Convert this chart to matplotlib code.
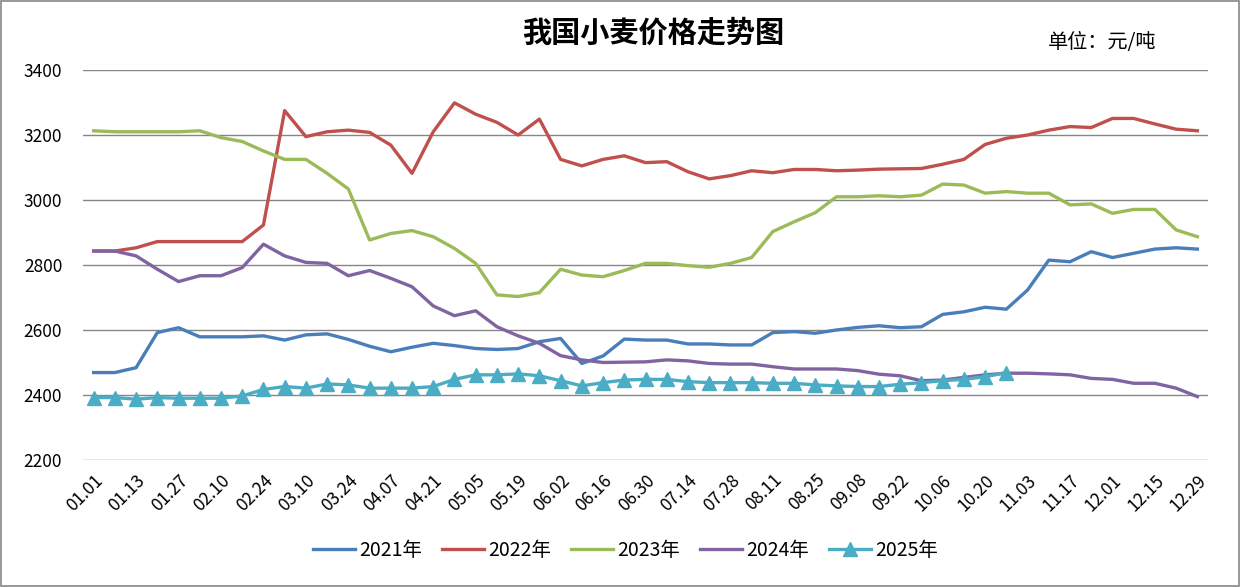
import matplotlib
matplotlib.use("Agg")
import matplotlib.pyplot as plt
from matplotlib.patches import Rectangle

plt.rcParams["font.family"] = ["Noto Sans CJK SC", "DejaVu Sans"]

# weekly sample dates; only every 2nd label is shown on the axis
tick_labels = [
    "01.01", "01.13", "01.27", "02.10", "02.24", "03.10", "03.24", "04.07", "04.21",
    "05.05", "05.19", "06.02", "06.16", "06.30", "07.14", "07.28", "08.11", "08.25",
    "09.08", "09.22", "10.06", "10.20", "11.03", "11.17", "12.01", "12.15", "12.29",
]

y2021 = [
    2469, 2469, 2484, 2592, 2607, 2579, 2579, 2579, 2582, 2569, 2585, 2588, 2571, 2550,
    2533, 2547, 2559, 2552, 2543, 2540, 2543, 2564, 2574, 2497, 2520, 2572, 2569, 2569,
    2557, 2557, 2554, 2554, 2592, 2595, 2590, 2600, 2608, 2613, 2607, 2610, 2648, 2656,
    2670, 2664, 2723, 2815, 2810, 2841, 2823, 2836, 2849, 2853, 2849,
]
y2022 = [
    2843, 2843, 2853, 2872, 2872, 2872, 2872, 2872, 2923, 3275, 3195, 3210, 3215, 3208,
    3169, 3082, 3210, 3299, 3264, 3239, 3200, 3249, 3125, 3105, 3125, 3136, 3115, 3118,
    3087, 3065, 3075, 3090, 3084, 3094, 3094, 3090, 3092, 3095, 3096, 3097, 3110, 3125,
    3171, 3190, 3200, 3215, 3226, 3223, 3251, 3251, 3234, 3218, 3213,
]
y2023 = [
    3213, 3210, 3210, 3210, 3210, 3213, 3192, 3180, 3151, 3125, 3125, 3082, 3034, 2877,
    2897, 2906, 2887, 2851, 2805, 2708, 2703, 2715, 2787, 2769, 2764, 2783, 2805, 2805,
    2798, 2793, 2805, 2823, 2903, 2933, 2961, 3010, 3010, 3013, 3010, 3015, 3049, 3046,
    3021, 3026, 3021, 3021, 2985, 2988, 2959, 2971, 2971, 2908, 2887,
]
y2024 = [
    2843, 2843, 2828, 2787, 2749, 2767, 2767, 2792, 2864, 2828, 2808, 2805, 2767, 2783,
    2759, 2733, 2674, 2644, 2659, 2610, 2582, 2559, 2521, 2508, 2500, 2501, 2502, 2508,
    2505, 2497, 2495, 2495, 2487, 2480, 2480, 2480, 2475, 2464, 2459, 2444, 2446, 2454,
    2462, 2467, 2467, 2465, 2462, 2451, 2448, 2436, 2436, 2421, 2395,
]
y2025 = [
    2392, 2392, 2387, 2392, 2390, 2390, 2390, 2397, 2417, 2426, 2421, 2434, 2431, 2421,
    2421, 2421, 2426, 2448, 2462, 2462, 2465, 2459, 2444, 2428, 2438, 2446, 2448, 2448,
    2441, 2438, 2438, 2438, 2436, 2436, 2431, 2428, 2426, 2426, 2433, 2438, 2444, 2448,
    2456, 2469,
]

series = [
    ("2021年", y2021, "#4a7ebb", None),
    ("2022年", y2022, "#c0504d", None),
    ("2023年", y2023, "#9bbb59", None),
    ("2024年", y2024, "#8064a2", None),
    ("2025年", y2025, "#4bacc6", "^"),
]

fig = plt.figure(figsize=(12.41, 5.87), dpi=100)
ax = fig.add_axes([0.0669, 0.2164, 0.9065, 0.6643])

for name, vals, color, marker in series:
    ax.plot(range(len(vals)), vals, color=color, linewidth=2.4, label=name,
            marker=marker, markersize=10.5, solid_joinstyle="round")

ax.set_xlim(-0.5, len(y2021) - 0.5)
ax.set_ylim(2200, 3400)
ax.set_yticks(range(2200, 3401, 200))
ax.set_xticks(range(0, len(y2021), 2))
ax.set_xticklabels(tick_labels, rotation=45, ha="right", rotation_mode="anchor")
ax.tick_params(axis="both", length=0, labelsize=12.5)
ax.tick_params(axis="x", pad=8)
ax.tick_params(axis="y", pad=15)
ax.grid(axis="y", color="#868686", linewidth=1)
ax.set_axisbelow(True)
for side in ["top", "right", "left", "bottom"]:
    ax.spines[side].set_visible(False)

fig.text(0.526, 0.945, "我国小麦价格走势图", ha="center", va="center",
         fontsize=21, fontweight="bold")
fig.text(0.888, 0.927, "单位：元/吨", ha="center", va="center", fontsize=14.5)

fig.legend(loc="center", bbox_to_anchor=(0.504, 0.063), ncol=5, frameon=False,
           fontsize=14, handlelength=2.15, handletextpad=0.2, columnspacing=1.05)

fig.patches.append(Rectangle((0.001, 0.001), 0.997, 0.997, transform=fig.transFigure,
                             fill=False, edgecolor="#868686", linewidth=1.2))

fig.savefig("out.png", dpi=100)
